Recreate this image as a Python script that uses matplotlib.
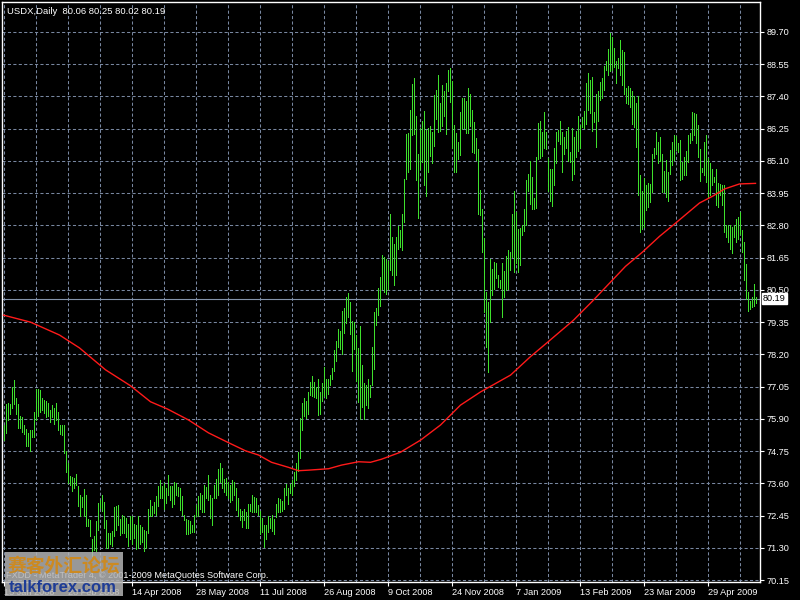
import matplotlib
matplotlib.use('Agg')
import matplotlib.pyplot as plt
from matplotlib.patches import Rectangle

symbol = 'USDX,Daily'
last_ohlc = [80.06, 80.25, 80.02, 80.19]
current_price = 80.19

date_labels = ['15 Jan 2008', '28 Feb 2008', '14 Apr 2008', '28 May 2008',
               '11 Jul 2008', '26 Aug 2008', '9 Oct 2008', '24 Nov 2008',
               '7 Jan 2009', '13 Feb 2009', '23 Mar 2009', '29 Apr 2009']
price_ticks = [70.15, 71.30, 72.45, 73.60, 74.75, 75.90, 77.05, 78.20, 79.35,
               80.50, 81.65, 82.80, 83.95, 85.10, 86.25, 87.40, 88.55, 89.70]

# daily bars, 15 Jan 2008 .. end of May 2009
highs = [
    75.67, 76.44, 76.48, 76.44, 77.05, 77.30, 76.63, 76.44, 76.01, 75.96,
    75.67, 75.55, 75.40, 75.52, 75.52, 76.15, 76.96, 76.97, 76.93, 76.65,
    76.59, 76.55, 76.47, 76.22, 76.38, 76.28, 76.47, 76.13, 75.67, 75.67,
    75.67, 74.74, 74.34, 73.86, 73.81, 73.78, 73.93, 73.49, 73.19, 73.11,
    73.40, 73.19, 72.34, 72.28, 71.60, 71.72, 72.25, 72.90, 73.01, 73.19,
    72.93, 72.30, 71.83, 71.83, 71.89, 72.75, 72.80, 72.84, 72.34, 72.46,
    72.42, 72.36, 72.16, 72.45, 72.42, 72.16, 72.13, 72.42, 72.13, 72.04,
    71.93, 71.89, 72.68, 73.01, 72.78, 72.93, 73.13, 73.49, 73.72, 73.51,
    73.60, 73.43, 73.90, 73.51, 73.49, 73.63, 73.60, 73.46, 73.43, 73.13,
    72.48, 72.34, 72.28, 72.25, 72.13, 72.47, 72.82, 73.15, 73.24, 73.18,
    73.53, 73.47, 73.91, 73.20, 73.06, 73.53, 73.77, 74.12, 74.34, 74.15,
    73.77, 73.79, 73.63, 73.53, 73.71, 73.65, 73.44, 73.09, 72.68, 72.61,
    72.68, 72.59, 72.85, 72.88, 73.20, 73.12, 73.06, 72.82, 72.62, 72.37,
    72.11, 72.13, 72.44, 72.37, 72.47, 72.32, 72.88, 73.06, 73.03, 72.96,
    73.44, 73.59, 73.44, 73.56, 73.71, 74.00, 74.34, 74.72, 75.93, 76.47,
    76.64, 76.52, 76.85, 77.23, 77.42, 77.21, 77.03, 77.32, 76.87, 77.18,
    77.74, 77.32, 77.32, 77.47, 77.70, 78.37, 78.69, 79.10, 79.04, 79.75,
    79.84, 80.23, 80.38, 80.07, 79.40, 79.36, 78.89, 78.41, 79.20, 77.82,
    77.18, 77.09, 77.32, 77.11, 78.45, 79.72, 79.87, 80.58, 80.95, 81.73,
    81.67, 81.59, 81.52, 83.19, 82.39, 82.15, 82.39, 82.78, 82.63, 83.19,
    84.45, 86.05, 86.08, 86.92, 87.83, 88.05, 86.71, 85.33, 86.26, 86.52,
    86.88, 86.20, 86.28, 86.36, 86.14, 87.45, 87.63, 88.17, 87.16, 87.81,
    87.60, 87.87, 88.35, 88.43, 87.95, 86.40, 86.08, 85.78, 86.86, 87.36,
    87.33, 87.24, 87.69, 87.48, 86.92, 86.50, 85.93, 85.52, 84.06, 83.40,
    82.35, 80.42, 80.08, 81.59, 81.25, 81.49, 81.47, 81.02, 80.87, 81.47,
    81.16, 81.71, 81.91, 81.85, 83.19, 84.02, 83.28, 82.69, 82.71, 82.80,
    83.40, 84.41, 84.65, 85.09, 84.53, 83.78, 85.25, 86.44, 86.52, 86.14,
    86.83, 86.14, 85.21, 84.83, 84.83, 85.57, 86.14, 86.20, 86.52, 86.12,
    85.96, 86.17, 86.32, 85.43, 86.28, 85.97, 86.17, 86.72, 86.38, 86.68,
    86.88, 87.87, 88.23, 87.99, 88.11, 86.84, 87.48, 87.60, 87.93, 88.05,
    88.47, 88.65, 89.10, 89.66, 89.51, 89.13, 88.65, 88.79, 89.43, 89.07,
    88.98, 87.70, 87.76, 87.72, 87.60, 87.40, 87.16, 87.40, 84.59, 84.02,
    84.48, 84.24, 84.33, 84.29, 85.33, 85.55, 86.12, 85.76, 85.97, 85.33,
    84.74, 85.13, 84.71, 85.49, 85.76, 86.03, 86.00, 85.73, 85.85, 85.07,
    85.25, 85.45, 86.03, 86.09, 86.86, 86.80, 86.77, 86.38, 85.52, 84.86,
    85.79, 86.03, 85.19, 85.01, 84.83, 84.53, 84.83, 84.33, 84.29, 84.24,
    84.24, 82.81, 82.83, 82.81, 82.75, 82.83, 83.04, 83.10, 83.28, 82.63,
    82.21, 81.43, 80.42, 80.12, 80.24, 80.72, 80.25,
]
lows = [
    75.14, 75.40, 75.87, 76.08, 76.29, 76.44, 76.08, 75.59, 75.59, 75.43,
    75.37, 74.93, 74.93, 74.74, 75.26, 75.26, 75.85, 75.99, 76.15, 76.22,
    76.11, 75.96, 75.99, 75.78, 75.96, 75.73, 75.85, 75.49, 75.37, 75.32,
    74.67, 74.02, 73.60, 73.54, 73.31, 73.43, 73.54, 72.78, 72.42, 72.76,
    72.42, 72.07, 72.07, 71.72, 71.01, 71.22, 71.18, 71.95, 72.72, 72.60,
    72.01, 71.30, 71.30, 71.42, 71.36, 71.72, 71.95, 72.13, 71.74, 71.83,
    71.83, 71.68, 71.36, 71.60, 71.42, 71.66, 71.24, 71.28, 71.42, 71.50,
    71.18, 71.30, 71.83, 72.45, 72.42, 72.54, 72.48, 72.78, 73.07, 73.07,
    72.69, 72.90, 73.19, 73.01, 72.75, 72.87, 73.19, 73.13, 72.66, 72.48,
    72.30, 71.81, 71.81, 71.83, 71.87, 71.87, 72.44, 72.44, 72.70, 72.56,
    72.58, 73.06, 73.00, 72.37, 72.13, 73.06, 73.09, 73.20, 73.65, 73.44,
    73.29, 73.18, 73.06, 72.94, 73.00, 73.20, 72.64, 72.44, 72.29, 72.05,
    72.29, 72.02, 72.02, 72.61, 72.58, 72.58, 72.56, 72.47, 71.81, 71.87,
    71.34, 71.61, 71.87, 72.02, 71.90, 71.78, 72.41, 72.58, 72.58, 72.61,
    72.68, 73.18, 72.88, 73.24, 73.20, 73.51, 73.71, 74.03, 74.50, 75.49,
    76.00, 75.93, 76.08, 76.76, 76.71, 76.67, 76.64, 76.02, 76.08, 76.55,
    76.71, 76.64, 76.79, 77.11, 77.32, 77.62, 77.98, 78.45, 78.39, 78.21,
    78.98, 79.32, 79.55, 78.92, 77.62, 78.39, 77.26, 76.49, 75.90, 76.32,
    75.90, 76.40, 76.28, 76.67, 77.11, 77.68, 79.24, 79.60, 79.93, 80.54,
    80.42, 80.36, 80.54, 81.20, 81.02, 80.68, 81.02, 81.95, 82.03, 81.91,
    82.92, 84.47, 84.69, 84.81, 86.02, 86.05, 84.41, 83.07, 84.83, 85.07,
    84.24, 83.85, 84.71, 85.28, 85.04, 85.64, 86.59, 86.12, 86.17, 86.36,
    86.71, 86.05, 87.60, 87.19, 85.55, 84.69, 84.71, 85.16, 85.31, 86.24,
    86.28, 86.08, 86.08, 86.36, 85.43, 85.37, 85.13, 83.22, 83.16, 81.85,
    79.70, 78.45, 77.58, 79.37, 80.32, 80.54, 80.92, 80.60, 80.56, 79.52,
    80.24, 80.48, 80.54, 81.20, 81.67, 81.14, 81.47, 81.14, 81.40, 82.45,
    82.59, 82.80, 84.02, 83.58, 83.40, 83.40, 83.42, 85.16, 85.21, 85.28,
    85.57, 85.52, 84.02, 83.66, 83.49, 84.24, 85.04, 85.81, 85.72, 84.69,
    85.33, 85.57, 85.09, 85.07, 84.41, 84.65, 85.25, 85.45, 85.57, 86.32,
    86.29, 86.41, 86.92, 86.80, 86.17, 86.48, 85.61, 86.53, 87.28, 87.36,
    87.64, 88.35, 88.17, 88.32, 88.35, 88.44, 87.87, 88.41, 88.17, 87.81,
    87.48, 87.16, 87.12, 87.04, 86.41, 86.30, 85.60, 83.88, 82.57, 82.69,
    82.75, 83.34, 83.46, 83.64, 84.00, 85.19, 85.33, 85.01, 85.10, 84.00,
    84.00, 83.82, 83.66, 84.62, 84.95, 85.13, 85.49, 85.43, 84.41, 84.47,
    84.59, 84.59, 85.07, 85.73, 85.85, 86.03, 85.73, 85.25, 84.38, 84.71,
    84.59, 84.35, 83.82, 83.88, 84.24, 84.35, 83.52, 83.46, 83.88, 83.52,
    82.57, 82.39, 82.21, 81.97, 81.83, 82.39, 82.21, 82.33, 82.51, 81.85,
    80.84, 80.18, 79.73, 79.82, 79.88, 79.94, 80.02,
]

# moving average, read at a few bar positions
ma_bars = [0, 13.5, 28, 38, 51, 63.5, 73.5, 82, 92.5, 102.5, 112.5, 121, 127.5,
           134, 142.5, 147.5, 152.5, 162.5, 169, 177.5, 183.5, 189, 198.5,
           208.5, 218.5, 228.5, 238.5, 253.5, 263.5, 272, 285, 294.5, 303, 311,
           319.5, 328, 336, 343, 348, 354.5, 360.5, 368, 376]
ma_vals = [79.60, 79.35, 78.89, 78.43, 77.65, 77.08, 76.51, 76.25, 75.86, 75.40,
           75.05, 74.76, 74.61, 74.35, 74.17, 74.05, 74.07, 74.12, 74.25, 74.37,
           74.35, 74.46, 74.71, 75.14, 75.68, 76.39, 76.86, 77.46, 78.12, 78.63,
           79.42, 80.10, 80.74, 81.34, 81.85, 82.41, 82.88, 83.30, 83.60, 83.84,
           84.10, 84.28, 84.30]

BAR_COLOR = '#3ee02c'
GRID_COLOR = '#7887a0'

plt.rcParams['font.family'] = ['Liberation Sans', 'DejaVu Sans']

fig = plt.figure(figsize=(8, 6), dpi=100, facecolor='black')
ax = fig.add_axes([2 / 800, 18 / 600, 758 / 800, 580 / 600])
ax.set_facecolor('black')

# thin 1px high-low bars, one every 2 px
ax.vlines(range(len(highs)), lows, highs, colors=BAR_COLOR, linewidth=0.6,
          antialiased=False, zorder=3)
ax.plot(ma_bars, ma_vals, color='#ff1a1a', linewidth=1.0, zorder=4)
ax.axhline(current_price, color='#8494ac', linewidth=0.8, zorder=2)

ax.set_xlim(-0.75, 378.25)
ax.set_ylim(70.08, 90.77)

ax.yaxis.tick_right()
ax.set_yticks(price_ticks)
ax.set_yticklabels(['%.2f' % p for p in price_ticks])
ax.set_xticks(range(0, 32 * len(date_labels), 32))
ax.set_xticklabels(date_labels, ha='left')
ax.set_xticks(range(16, 377, 32), minor=True)

ax.grid(True, which='both', color=GRID_COLOR, linestyle=(0, (3, 2.2)),
        linewidth=0.75, zorder=1)
ax.set_axisbelow(True)
ax.tick_params(colors='white', labelsize=6.6, length=3, width=0.8, pad=1.5)
ax.tick_params(axis='x', which='minor', length=0)
for sp in ax.spines.values():
    sp.set_color('white')
    sp.set_linewidth(1.0)

# price tag on the right axis
ax.text(1.004, current_price, '%.2f' % current_price,
        transform=ax.get_yaxis_transform(), ha='left', va='center',
        color='black', fontsize=6.6, clip_on=False, zorder=10,
        bbox=dict(facecolor='white', edgecolor='white', pad=1.0))

header = symbol + '  ' + ' '.join('%.2f' % v for v in last_ohlc)
fig.text(7 / 800, 1 - 11 / 600, header, color='white', fontsize=6.8,
         ha='left', va='center')
fig.text(6 / 800, 1 - 575 / 600,
         'FXDD - MetaTrader 4, \u00a9 2001-2009 MetaQuotes Software Corp.',
         color='white', fontsize=6.6, ha='left', va='center', zorder=3)

# watermark box
fig.patches.append(Rectangle((5 / 800, 4 / 600), 118 / 800, 44 / 600,
                             transform=fig.transFigure, facecolor='#b4b4b4',
                             edgecolor='none', alpha=0.85, zorder=10))
fig.text(64 / 800, 1 - 566 / 600, '赛客外汇论坛', color='#cc8a22',
         fontsize=13.5, fontweight='bold', ha='center', va='center',
         family=['Noto Sans CJK SC', 'DejaVu Sans'], zorder=11)
fig.text(63 / 800, 1 - 587 / 600, 'talkforex.com', color='#1e3c96',
         fontsize=12, fontweight='bold', ha='center', va='center', zorder=11)

fig.savefig('out.png', dpi=100, facecolor='black')
